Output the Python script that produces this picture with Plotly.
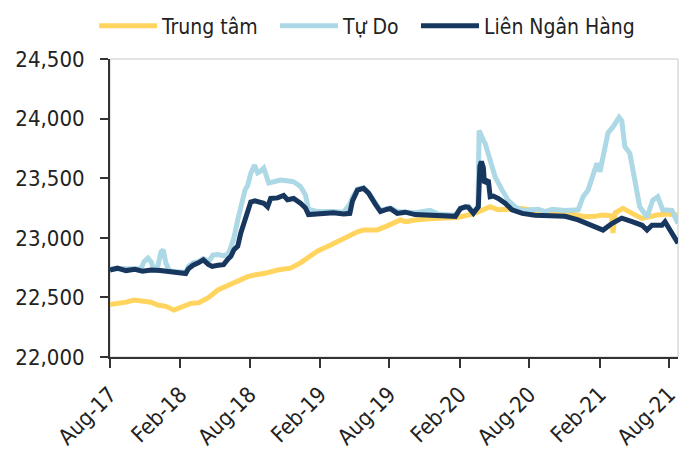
import plotly.graph_objects as go

# ---------------- data ----------------
tt_dates = ["2017-08-01", "2017-08-20", "2017-09-12", "2017-10-03", "2017-10-25", "2017-11-16",
            "2017-12-04", "2017-12-25", "2018-01-15", "2018-02-02", "2018-02-28", "2018-03-21",
            "2018-04-03", "2018-04-16", "2018-05-10", "2018-05-31", "2018-06-21", "2018-07-09",
            "2018-07-27", "2018-08-17", "2018-09-07", "2018-10-13", "2018-11-16", "2018-12-12",
            "2018-12-20", "2019-01-26", "2019-03-01", "2019-04-04", "2019-05-10", "2019-05-26",
            "2019-07-01", "2019-07-27", "2019-08-30", "2019-09-12", "2019-10-08", "2019-11-16",
            "2019-12-07", "2020-01-26", "2020-03-08", "2020-03-21", "2020-04-08", "2020-04-21",
            "2020-05-12", "2020-07-14", "2020-08-24", "2020-09-30", "2020-11-11", "2020-12-25",
            "2021-01-20", "2021-02-07", "2021-03-04", "2021-03-08", "2021-03-14", "2021-04-03",
            "2021-04-27", "2021-05-23", "2021-07-01", "2021-07-29", "2021-08-25"]
tt_values = [22440, 22445, 22460, 22478, 22470, 22460,
             22436, 22425, 22394, 22420, 22450, 22455,
             22478, 22500, 22562, 22590, 22618, 22640,
             22674, 22690, 22700, 22730, 22745, 22790,
             22810, 22890, 22940, 22995, 23050, 23066,
             23066, 23100, 23149, 23135, 23150, 23160,
             23160, 23170, 23200, 23219, 23235, 23260,
             23235, 23245, 23220, 23205, 23205, 23177,
             23180, 23191, 23185, 23040, 23210, 23247,
             23205, 23163, 23191, 23200, 23191]

td_dates = ["2017-08-01", "2017-09-12", "2017-10-21", "2017-10-29", "2017-11-08", "2017-11-16",
            "2017-11-24", "2017-12-04", "2017-12-12", "2017-12-18", "2017-12-25", "2018-01-02",
            "2018-01-15", "2018-02-15", "2018-02-22", "2018-03-06", "2018-03-20", "2018-04-02",
            "2018-04-16", "2018-04-27", "2018-05-10", "2018-05-25", "2018-06-05", "2018-06-13",
            "2018-06-21", "2018-07-01", "2018-07-09", "2018-07-20", "2018-07-27", "2018-08-04",
            "2018-08-14", "2018-08-22", "2018-08-30", "2018-09-07", "2018-09-20", "2018-10-01",
            "2018-10-21", "2018-11-16", "2018-11-24", "2018-12-12", "2018-12-25", "2019-01-02",
            "2019-01-26", "2019-03-08", "2019-04-04", "2019-04-20", "2019-04-27", "2019-05-10",
            "2019-05-26", "2019-06-08", "2019-06-26", "2019-07-09", "2019-08-04", "2019-08-22",
            "2019-10-08", "2019-11-16", "2019-12-07", "2020-01-21", "2020-02-03", "2020-02-24",
            "2020-03-08", "2020-03-20", "2020-03-23", "2020-03-27", "2020-04-03", "2020-04-08",
            "2020-04-21", "2020-05-04", "2020-05-22", "2020-06-07", "2020-06-25", "2020-07-14",
            "2020-08-24", "2020-09-12", "2020-09-30", "2020-11-03", "2020-12-07", "2020-12-20",
            "2021-01-02", "2021-01-15", "2021-01-25", "2021-02-02", "2021-02-15", "2021-02-23",
            "2021-03-08", "2021-03-19", "2021-03-24", "2021-03-31", "2021-04-08", "2021-04-21",
            "2021-05-04", "2021-05-17", "2021-06-05", "2021-06-20", "2021-07-03", "2021-07-16",
            "2021-08-09", "2021-08-25"]
td_values = [22740, 22735, 22740, 22800, 22830, 22800,
             22740, 22760, 22880, 22900, 22790, 22730,
             22715, 22710, 22760, 22790, 22800, 22825,
             22800, 22855, 22860, 22850, 22860, 22920,
             23000, 23150, 23250, 23400, 23440, 23540,
             23610, 23545, 23560, 23585, 23460, 23470,
             23485, 23475, 23470, 23430, 23360, 23240,
             23220, 23220, 23215, 23280, 23340, 23410,
             23420, 23380, 23290, 23230, 23250, 23220,
             23210, 23230, 23200, 23190, 23250, 23265,
             23215, 23260, 23900, 23860, 23820, 23790,
             23650, 23510, 23400, 23315, 23260, 23230,
             23240, 23220, 23240, 23230, 23235, 23345,
             23400, 23515, 23625, 23555, 23740, 23880,
             23930, 23990, 24010, 23980, 23765, 23710,
             23485, 23260, 23175, 23315, 23345, 23235,
             23230, 23120]

lnh_dates = ["2017-08-01", "2017-08-20", "2017-09-12", "2017-10-05", "2017-10-25", "2017-11-16",
             "2017-12-10", "2018-01-02", "2018-01-15", "2018-02-02", "2018-02-15", "2018-02-22",
             "2018-03-06", "2018-03-20", "2018-04-02", "2018-04-16", "2018-04-25", "2018-05-10",
             "2018-05-25", "2018-06-05", "2018-06-13", "2018-06-21", "2018-07-01", "2018-07-09",
             "2018-07-20", "2018-07-27", "2018-08-04", "2018-08-15", "2018-08-28", "2018-09-07",
             "2018-09-17", "2018-09-25", "2018-10-13", "2018-10-29", "2018-11-08", "2018-11-24",
             "2018-12-12", "2018-12-25", "2019-01-02", "2019-01-26", "2019-02-20", "2019-03-08",
             "2019-04-04", "2019-04-20", "2019-04-27", "2019-05-10", "2019-05-26", "2019-06-08",
             "2019-06-26", "2019-07-09", "2019-07-27", "2019-08-04", "2019-08-22", "2019-09-12",
             "2019-10-08", "2019-11-16", "2019-12-07", "2020-01-21", "2020-02-03", "2020-02-16",
             "2020-02-24", "2020-03-08", "2020-03-21", "2020-03-25", "2020-03-29", "2020-04-03",
             "2020-04-06", "2020-04-16", "2020-04-21", "2020-04-29", "2020-05-12", "2020-05-30",
             "2020-06-17", "2020-07-14", "2020-08-16", "2020-09-30", "2020-11-03", "2020-12-07",
             "2021-01-12", "2021-02-02", "2021-02-10", "2021-03-05", "2021-03-31", "2021-04-27",
             "2021-05-23", "2021-06-05", "2021-06-18", "2021-07-14", "2021-07-22", "2021-08-04",
             "2021-08-17", "2021-08-25"]
lnh_values = [22730, 22745, 22725, 22735, 22720, 22730,
              22725, 22715, 22705, 22700, 22700, 22740,
              22770, 22790, 22815, 22775, 22760, 22770,
              22775, 22820, 22845, 22900, 22930, 23040,
              23150, 23210, 23300, 23310, 23300, 23290,
              23260, 23330, 23335, 23355, 23320, 23330,
              23290, 23250, 23195, 23200, 23205, 23210,
              23200, 23205, 23310, 23400, 23415, 23375,
              23280, 23220, 23240, 23245, 23205, 23215,
              23195, 23190, 23190, 23180, 23245, 23260,
              23255, 23205, 23260, 23600, 23640, 23590,
              23460, 23485, 23345, 23350, 23330, 23290,
              23235, 23205, 23190, 23190, 23180, 23150,
              23105, 23080, 23065, 23120, 23165, 23135,
              23105, 23065, 23105, 23105, 23135, 23065,
              23000, 22955]

series_names = ["Trung tâm", "Tự Do", "Liên Ngân Hàng"]

x_tick_dates = ["2017-08-01", "2018-02-01", "2018-08-01", "2019-02-01", "2019-08-01",
                "2020-02-01", "2020-08-01", "2021-02-01", "2021-08-01"]
x_tick_labels = ["Aug-17", "Feb-18", "Aug-18", "Feb-19", "Aug-19",
                 "Feb-20", "Aug-20", "Feb-21", "Aug-21"]
y_tick_values = [22000, 22500, 23000, 23500, 24000, 24500]

# ---------------- figure ----------------
FONT = "DejaVu Sans Condensed, DejaVu Sans, Verdana, sans-serif"
colors = ["#FFD45F", "#ADD8E6", "#17375E"]
legend_ids = ["legend", "legend2", "legend3"]
legend_x = [-0.028, 0.2905, 0.5387]

fig = go.Figure()
for name, xs, ys, col, lg in zip(series_names,
                                 [tt_dates, td_dates, lnh_dates],
                                 [tt_values, td_values, lnh_values],
                                 colors, legend_ids):
    fig.add_trace(go.Scatter(x=xs, y=ys, mode="lines", name=name, legend=lg,
                             line=dict(color=col, width=5)))

legend_style = dict(orientation="h", y=1.11, xanchor="left", yanchor="middle",
                    font=dict(family=FONT, size=21, color="#222222"),
                    itemwidth=58, bgcolor="rgba(0,0,0,0)")

fig.update_layout(
    width=680, height=452,
    margin=dict(l=110, r=2, t=59, b=95, autoexpand=False),
    plot_bgcolor="white", paper_bgcolor="white",
    font=dict(family=FONT, size=21, color="#222222"),
    showlegend=True,
    legend=dict(x=legend_x[0], **legend_style),
    legend2=dict(x=legend_x[1], **legend_style),
    legend3=dict(x=legend_x[2], **legend_style),
)

fig.add_shape(type="rect", xref="paper", yref="paper", x0=0, x1=1, y0=0, y1=1,
              line=dict(color="#c8c8c8", width=1), layer="below")

fig.update_xaxes(
    range=["2017-08-01", "2021-08-25"],
    tickmode="array", tickvals=x_tick_dates, ticktext=x_tick_labels,
    tickangle=-45, ticks="outside", ticklen=9, tickwidth=1.5, tickcolor="#333333",
    showline=True, linecolor="#333333", linewidth=2,
    showgrid=False, zeroline=False, automargin=False,
    ticklabelstandoff=5, ticklabeloverflow="allow",
    tickfont=dict(family=FONT, size=22, color="#222222"),
)
fig.update_yaxes(
    range=[22000, 24500],
    tickmode="array", tickvals=y_tick_values, tickformat=",d",
    ticks="outside", ticklen=8, tickwidth=1.5, tickcolor="#333333",
    showline=True, linecolor="#333333", linewidth=2,
    showgrid=False, zeroline=False, automargin=False,
    ticklabelstandoff=11, ticklabeloverflow="allow",
    tickfont=dict(family=FONT, size=22, color="#222222"),
)

fig.write_html("out.html", config={"displayModeBar": False},
               post_script="document.body.style.margin='0';")
